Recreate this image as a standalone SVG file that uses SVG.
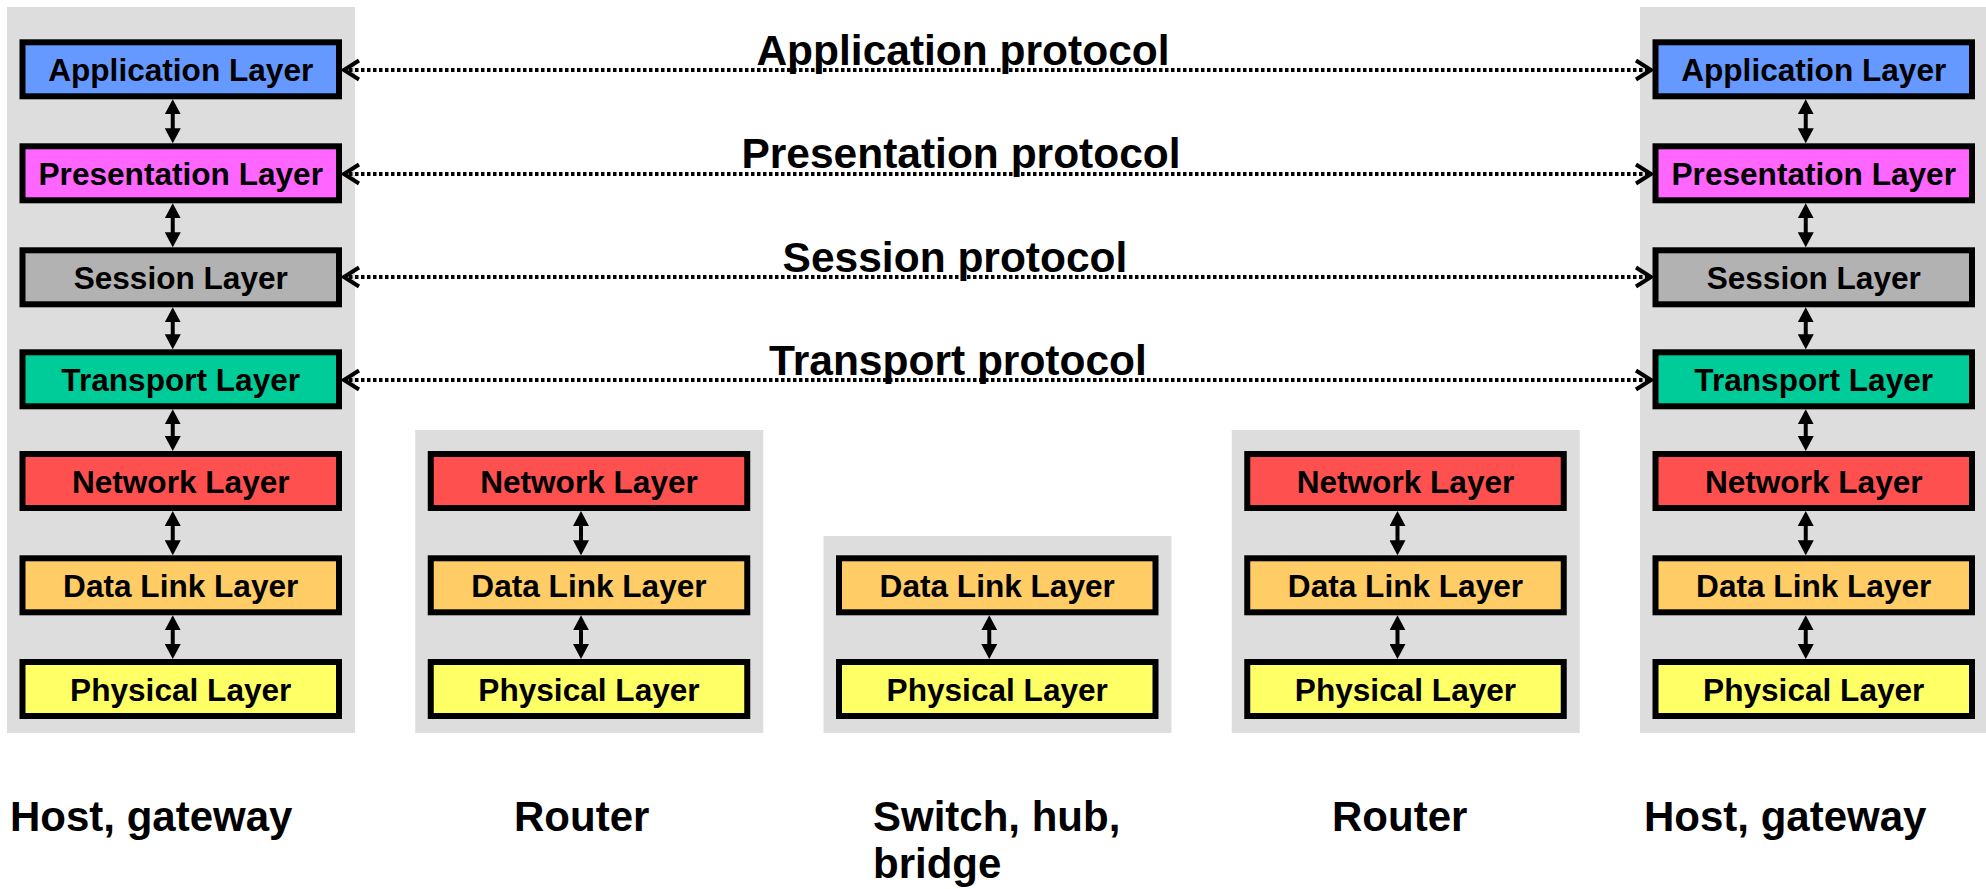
<svg xmlns="http://www.w3.org/2000/svg" width="1986" height="889" viewBox="0 0 1986 889">
<style>
.panel{fill:#DDDDDD;stroke:none}
.box{stroke:#000;stroke-width:6}
.lt{font-family:"Liberation Sans",Arial,sans-serif;font-weight:bold;font-size:31.6px;text-anchor:middle;fill:#000}
.pt{font-family:"Liberation Sans",Arial,sans-serif;font-weight:bold;font-size:42.5px;text-anchor:middle;fill:#000}
.dt{font-family:"Liberation Sans",Arial,sans-serif;font-weight:bold;font-size:42px;fill:#000}
.va{stroke:#000;stroke-width:4;fill:none;marker-start:url(#tri);marker-end:url(#tri)}
.dl{stroke:#000;stroke-width:4;stroke-dasharray:3.5 2.5;fill:none;marker-start:url(#chev);marker-end:url(#chev)}
.app{fill:#6699FF}.pre{fill:#FF66FF}.ses{fill:#B2B2B2}.tra{fill:#00CC99}.net{fill:#FF5050}.dll{fill:#FFCC66}.phy{fill:#FFFF66}
</style>
<defs>
<marker id="tri" markerUnits="userSpaceOnUse" viewBox="0 0 15 16" markerWidth="15" markerHeight="16" refX="1" refY="8" orient="auto-start-reverse">
<path d="M0,0 L15,8 L0,16 z" fill="#000"/>
</marker>
<marker id="chev" markerUnits="userSpaceOnUse" viewBox="-20 -12 24 24" markerWidth="24" markerHeight="24" refX="0" refY="0" orient="auto-start-reverse">
<path d="M-16,-9.5 L-1,0 L-16,9.5" fill="none" stroke="#000" stroke-width="4"/>
</marker>
</defs>
<rect width="1986" height="889" fill="#fff"/>

<g id="host-left">
<rect class="panel" x="7" y="7" width="348" height="726"/>
<g id="hl-app"><rect class="box app" x="22.5" y="42.3" width="316.5" height="54"/><text class="lt" x="180.75" y="81">Application Layer</text></g>
<g id="hl-pre"><rect class="box pre" x="22.5" y="146.3" width="316.5" height="54"/><text class="lt" x="180.75" y="185">Presentation Layer</text></g>
<g id="hl-ses"><rect class="box ses" x="22.5" y="250.3" width="316.5" height="54"/><text class="lt" x="180.75" y="289">Session Layer</text></g>
<g id="hl-tra"><rect class="box tra" x="22.5" y="352.3" width="316.5" height="54"/><text class="lt" x="180.75" y="391">Transport Layer</text></g>
<g id="hl-net"><rect class="box net" x="22.5" y="454" width="316.5" height="54"/><text class="lt" x="180.75" y="492.7">Network Layer</text></g>
<g id="hl-dll"><rect class="box dll" x="22.5" y="558.3" width="316.5" height="54"/><text class="lt" x="180.75" y="597">Data Link Layer</text></g>
<g id="hl-phy"><rect class="box phy" x="22.5" y="662" width="316.5" height="54"/><text class="lt" x="180.75" y="700.7">Physical Layer</text></g>
</g>

<g id="router-left">
<rect class="panel" x="415.25" y="430" width="348" height="303"/>
<g id="rl-net"><rect class="box net" x="430.75" y="454" width="316.5" height="54"/><text class="lt" x="589" y="492.7">Network Layer</text></g>
<g id="rl-dll"><rect class="box dll" x="430.75" y="558.3" width="316.5" height="54"/><text class="lt" x="589" y="597">Data Link Layer</text></g>
<g id="rl-phy"><rect class="box phy" x="430.75" y="662" width="316.5" height="54"/><text class="lt" x="589" y="700.7">Physical Layer</text></g>
</g>

<g id="switch">
<rect class="panel" x="823.5" y="536" width="348" height="197"/>
<g id="sw-dll"><rect class="box dll" x="839" y="558.3" width="316.5" height="54"/><text class="lt" x="997.25" y="597">Data Link Layer</text></g>
<g id="sw-phy"><rect class="box phy" x="839" y="662" width="316.5" height="54"/><text class="lt" x="997.25" y="700.7">Physical Layer</text></g>
</g>

<g id="router-right">
<rect class="panel" x="1231.75" y="430" width="348" height="303"/>
<g id="rr-net"><rect class="box net" x="1247.25" y="454" width="316.5" height="54"/><text class="lt" x="1405.5" y="492.7">Network Layer</text></g>
<g id="rr-dll"><rect class="box dll" x="1247.25" y="558.3" width="316.5" height="54"/><text class="lt" x="1405.5" y="597">Data Link Layer</text></g>
<g id="rr-phy"><rect class="box phy" x="1247.25" y="662" width="316.5" height="54"/><text class="lt" x="1405.5" y="700.7">Physical Layer</text></g>
</g>

<g id="host-right">
<rect class="panel" x="1640" y="7" width="348" height="726"/>
<g id="hr-app"><rect class="box app" x="1655.5" y="42.3" width="316.5" height="54"/><text class="lt" x="1813.75" y="81">Application Layer</text></g>
<g id="hr-pre"><rect class="box pre" x="1655.5" y="146.3" width="316.5" height="54"/><text class="lt" x="1813.75" y="185">Presentation Layer</text></g>
<g id="hr-ses"><rect class="box ses" x="1655.5" y="250.3" width="316.5" height="54"/><text class="lt" x="1813.75" y="289">Session Layer</text></g>
<g id="hr-tra"><rect class="box tra" x="1655.5" y="352.3" width="316.5" height="54"/><text class="lt" x="1813.75" y="391">Transport Layer</text></g>
<g id="hr-net"><rect class="box net" x="1655.5" y="454" width="316.5" height="54"/><text class="lt" x="1813.75" y="492.7">Network Layer</text></g>
<g id="hr-dll"><rect class="box dll" x="1655.5" y="558.3" width="316.5" height="54"/><text class="lt" x="1813.75" y="597">Data Link Layer</text></g>
<g id="hr-phy"><rect class="box phy" x="1655.5" y="662" width="316.5" height="54"/><text class="lt" x="1813.75" y="700.7">Physical Layer</text></g>
</g>

<g id="connectors">
<line class="va" x1="172.75" y1="113.3" x2="172.75" y2="129.3"/>
<line class="va" x1="172.75" y1="217.3" x2="172.75" y2="233.3"/>
<line class="va" x1="172.75" y1="321.3" x2="172.75" y2="335.3"/>
<line class="va" x1="172.75" y1="423.3" x2="172.75" y2="437"/>
<line class="va" x1="172.75" y1="525" x2="172.75" y2="541.3"/>
<line class="va" x1="172.75" y1="629.3" x2="172.75" y2="645"/>
<line class="va" x1="581" y1="525" x2="581" y2="541.3"/>
<line class="va" x1="581" y1="629.3" x2="581" y2="645"/>
<line class="va" x1="989.25" y1="629.3" x2="989.25" y2="645"/>
<line class="va" x1="1397.5" y1="525" x2="1397.5" y2="541.3"/>
<line class="va" x1="1397.5" y1="629.3" x2="1397.5" y2="645"/>
<line class="va" x1="1805.75" y1="113.3" x2="1805.75" y2="129.3"/>
<line class="va" x1="1805.75" y1="217.3" x2="1805.75" y2="233.3"/>
<line class="va" x1="1805.75" y1="321.3" x2="1805.75" y2="335.3"/>
<line class="va" x1="1805.75" y1="423.3" x2="1805.75" y2="437"/>
<line class="va" x1="1805.75" y1="525" x2="1805.75" y2="541.3"/>
<line class="va" x1="1805.75" y1="629.3" x2="1805.75" y2="645"/>
<line class="dl" x1="343" y1="70" x2="1652" y2="70"/>
<line class="dl" x1="343" y1="174" x2="1652" y2="174"/>
<line class="dl" x1="343" y1="277" x2="1652" y2="277"/>
<line class="dl" x1="343" y1="380" x2="1652" y2="380"/>
<text class="pt" x="963" y="65">Application protocol</text>
<text class="pt" x="961" y="168.3">Presentation protocol</text>
<text class="pt" x="955" y="271.7">Session protocol</text>
<text class="pt" x="958" y="375">Transport protocol</text>
</g>

<g id="labels">
<text class="dt" x="10" y="831">Host, gateway</text>
<text class="dt" x="514" y="831">Router</text>
<text class="dt" x="873" y="831">Switch, hub,</text>
<text class="dt" x="873" y="878">bridge</text>
<text class="dt" x="1332" y="831">Router</text>
<text class="dt" x="1644" y="831">Host, gateway</text>
</g>
</svg>
